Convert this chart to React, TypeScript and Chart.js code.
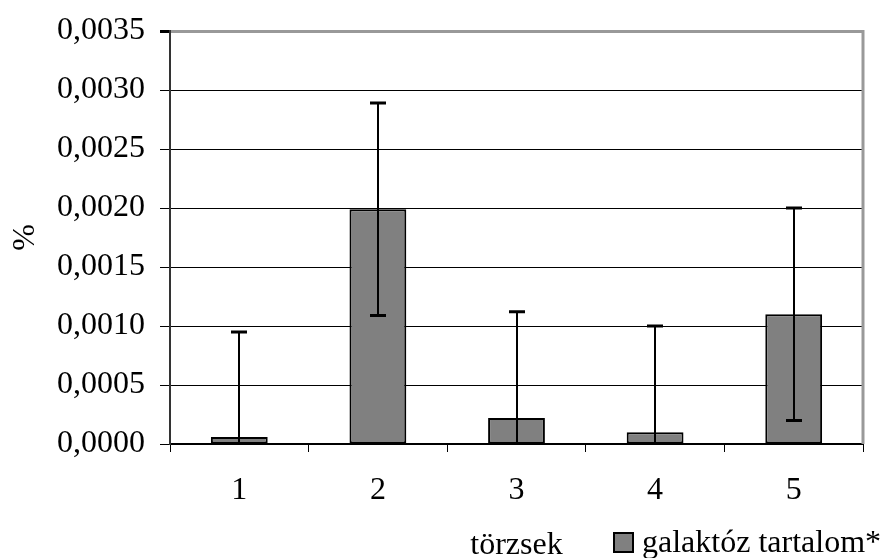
import React, { useEffect, useRef } from "react";
import { Chart, registerables } from "chart.js";

Chart.register(...registerables);

const categories = ["1", "2", "3", "4", "5"];
const values = [0.00006, 0.00199, 0.00022, 0.0001, 0.0011];
const errors = [0.00089, 0.0009, 0.0009, 0.0009, 0.0009];
const seriesLabel = "galaktóz tartalom*";
const xTitle = "törzsek";
const yTitle = "%";
const yMin = 0;
const yMax = 0.0035;
const yStep = 0.0005;

const FONT = "'Liberation Serif', 'Times New Roman', serif";
const FS = 32;

const errorBarPlugin = {
  id: "errorBars",
  afterDatasetsDraw(chart: any) {
    const { ctx, chartArea, scales } = chart;
    const y = scales.y;
    const meta = chart.getDatasetMeta(0);
    ctx.save();
    ctx.beginPath();
    ctx.rect(chartArea.left, chartArea.top - 5, chartArea.right - chartArea.left, chartArea.bottom - chartArea.top + 6);
    ctx.clip();
    ctx.strokeStyle = "#000";
    meta.data.forEach((bar: any, i: number) => {
      const cx = Math.round(bar.x);
      const hi = y.getPixelForValue(values[i] + errors[i]);
      const lo = y.getPixelForValue(values[i] - errors[i]);
      ctx.lineWidth = 2;
      ctx.beginPath();
      ctx.moveTo(cx, lo);
      ctx.lineTo(cx, hi);
      ctx.stroke();
      ctx.lineWidth = 3;
      ctx.beginPath();
      ctx.moveTo(cx - 8, hi);
      ctx.lineTo(cx + 8, hi);
      ctx.moveTo(cx - 8, lo);
      ctx.lineTo(cx + 8, lo);
      ctx.stroke();
    });
    ctx.restore();
  },
};

const framePlugin = {
  id: "frame",
  beforeDatasetsDraw(chart: any) {
    const { ctx, chartArea } = chart;
    ctx.save();
    ctx.strokeStyle = "#999";
    ctx.lineWidth = 3;
    ctx.beginPath();
    ctx.moveTo(chartArea.right, chartArea.top - 1);
    ctx.lineTo(chartArea.right, chartArea.bottom);
    ctx.stroke();
    ctx.restore();
  },
};

const legendPlugin = {
  id: "customLegend",
  afterDraw(chart: any) {
    const { ctx } = chart;
    const ds = chart.data.datasets[0];
    ctx.save();
    ctx.fillStyle = ds.backgroundColor;
    ctx.fillRect(614, 533, 19, 19);
    ctx.strokeStyle = "#000";
    ctx.lineWidth = 2;
    ctx.strokeRect(614, 533, 19, 19);
    ctx.fillStyle = "#000";
    ctx.font = `${FS}px ${FONT}`;
    ctx.textAlign = "left";
    ctx.textBaseline = "alphabetic";
    ctx.fillText(ds.label, 642, 552);
    ctx.restore();
  },
};

export default function App() {
  const ref = useRef<HTMLCanvasElement | null>(null);

  useEffect(() => {
    if (!ref.current) return;
    const chart = new Chart(ref.current, {
      type: "bar",
      data: {
        labels: categories,
        datasets: [
          {
            label: seriesLabel,
            data: values,
            backgroundColor: "#808080",
            borderColor: "#000",
            borderWidth: 2,
            borderSkipped: false,
            categoryPercentage: 1,
            barPercentage: 0.41,
          },
        ],
      },
      options: {
        animation: false,
        responsive: false,
        devicePixelRatio: 1,
        layout: { padding: { top: 25, right: 19, left: 0, bottom: 0 } },
        plugins: {
          legend: { display: false },
          tooltip: { enabled: false },
        },
        scales: {
          x: {
            offset: true,
            grid: {
              display: true,
              drawOnChartArea: false,
              drawTicks: true,
              tickLength: 8,
              color: "#000",
              offset: true,
              lineWidth: 1,
            },
            border: { color: "#000", width: 2 },
            ticks: {
              color: "#000",
              font: { family: FONT, size: FS, lineHeight: 1 },
              padding: 23,
              maxRotation: 0,
            },
            title: {
              display: true,
              text: xTitle,
              color: "#000",
              font: { family: FONT, size: FS, lineHeight: 1 },
              padding: { top: 0, bottom: -4 },
            },
            afterFit: (s: any) => {
              s.height = 114;
            },
          },
          y: {
            min: yMin,
            max: yMax,
            ticks: {
              stepSize: yStep,
              color: "#000",
              font: { family: FONT, size: FS, lineHeight: 1 },
              padding: 15,
              callback: (v: any) => Number(v).toFixed(4).replace(".", ","),
            },
            grid: {
              color: (c: any) => (c.tick && c.tick.value >= yMax - 1e-12 ? "#999" : "#000"),
              lineWidth: (c: any) => (c.tick && c.tick.value >= yMax - 1e-12 ? 3 : 1),
              tickColor: "#000",
              tickLength: 10,
              drawTicks: true,
            },
            border: { color: "#333", width: 2 },
            title: {
              display: true,
              text: yTitle,
              color: "#000",
              font: { family: FONT, size: FS, lineHeight: 1 },
              padding: { top: 10, bottom: 0 },
            },
            afterFit: (s: any) => {
              s.width = 170;
            },
          },
        },
      },
      plugins: [framePlugin, errorBarPlugin, legendPlugin],
    });
    return () => chart.destroy();
  }, []);

  return (
    <div style={{ position: "fixed", left: 0, top: 0, width: 882, height: 558, background: "#fff" }}>
      <canvas ref={ref} width={882} height={558} style={{ display: "block" }} />
    </div>
  );
}
